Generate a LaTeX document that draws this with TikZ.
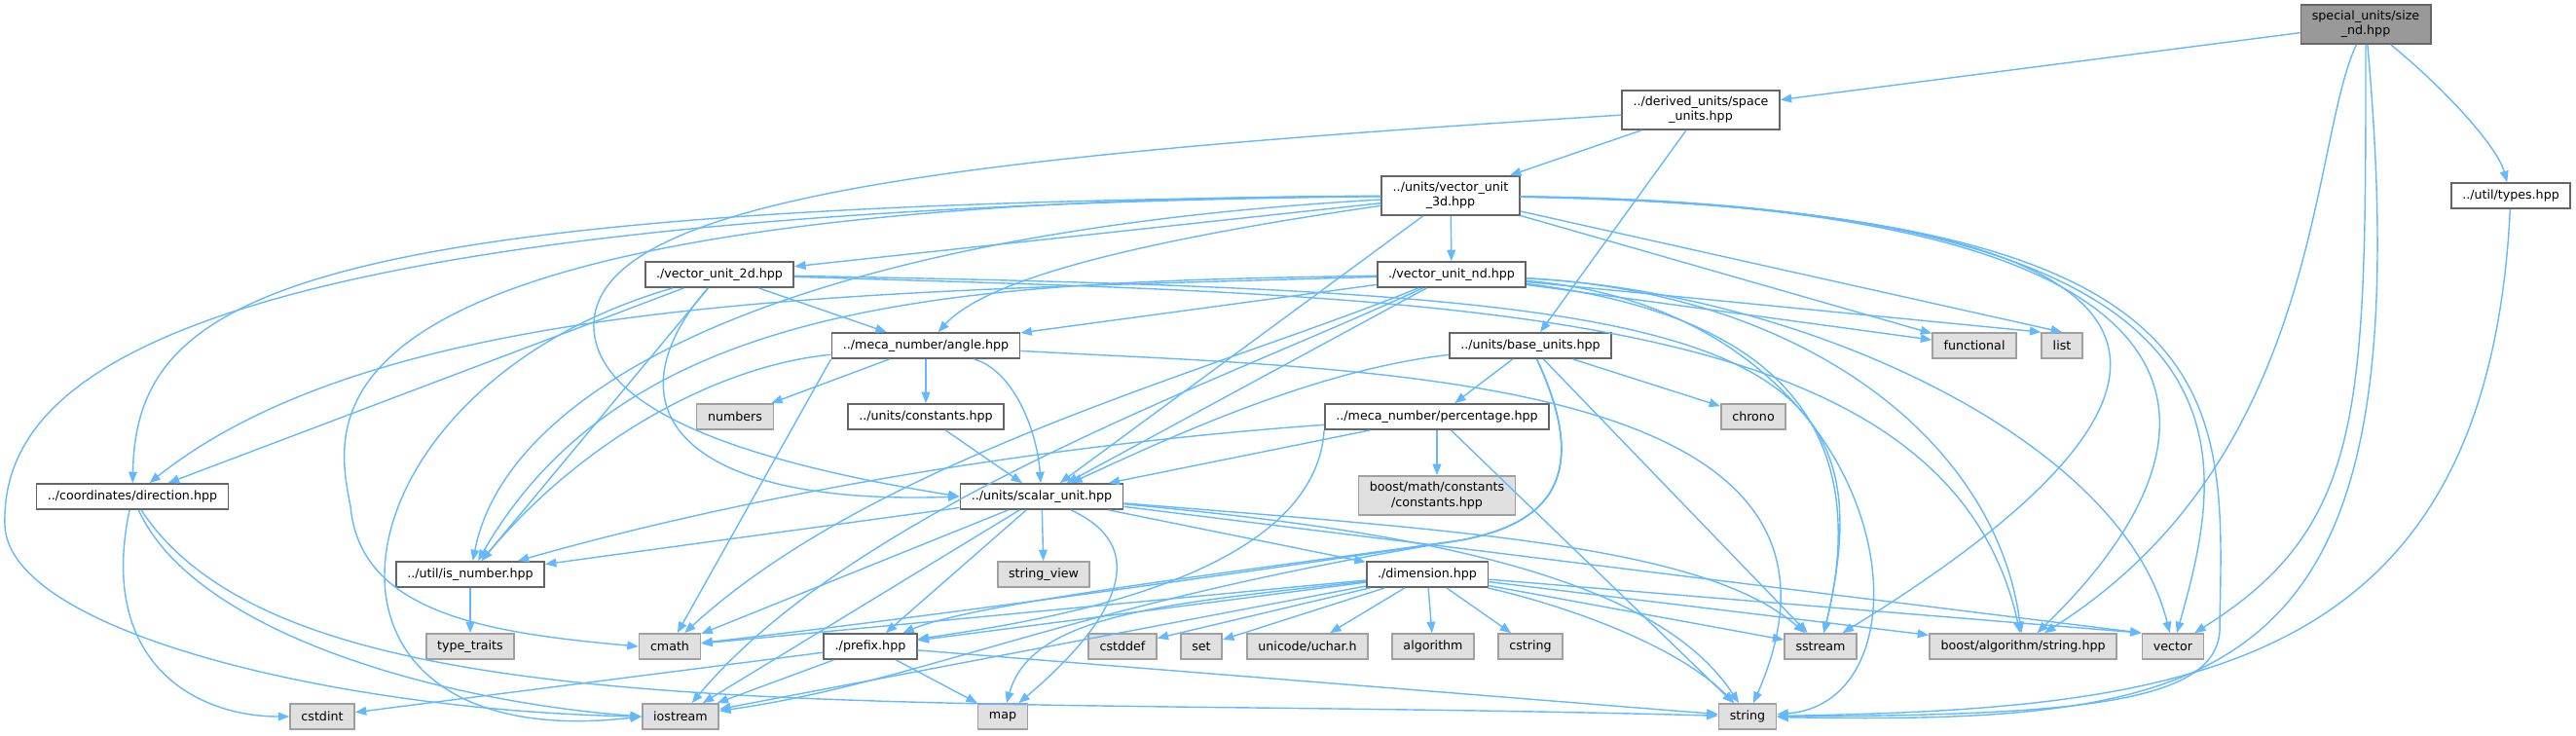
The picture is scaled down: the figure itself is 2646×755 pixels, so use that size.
\documentclass[tikz,border=0pt]{standalone}
\usepackage{fontspec}
\setmainfont{DejaVu Sans}
\usetikzlibrary{arrows.meta}

\definecolor{azul}{RGB}{99,184,255}
\definecolor{bordeoscuro}{RGB}{102,102,102}
\definecolor{bordeclaro}{RGB}{160,160,160}
\definecolor{fondogris}{RGB}{224,224,224}
\definecolor{grisraiz}{RGB}{153,153,153}

\tikzset{
  archivo/.style={draw=bordeoscuro, fill=white, line width=1pt, inner xsep=6.5pt,
    minimum height=0.52cm, font=\fontsize{7.2}{8.6}\selectfont},
  externo/.style={archivo, draw=bordeclaro, fill=fondogris},
  doble/.style={archivo, align=center, minimum height=0.8cm},
  raiz/.style={doble, fill=grisraiz},
  flecha/.style={draw=azul, line width=0.8pt, -{Triangle[length=6.5pt,width=5pt]}}
}

\begin{document}
\begin{tikzpicture}[x=0.02cm, y=0.02cm] % 1 unidad = 1 pixel
    \useasboundingbox (0,0) rectangle (2646,-755);
    % Archivos del proyecto
    \node[raiz] (raiz) at (2430,-25) {special\_units/size\\\_nd.hpp};
    \node[doble] (espacio) at (1747,-113) {../derived\_units/space\\\_units.hpp};
    \node[archivo] (tipos) at (2579,-201) {../util/types.hpp};
    \node[doble] (vec3d) at (1490,-201) {../units/vector\_unit\\\_3d.hpp};
    \node[archivo] (vec2d) at (739,-282) {./vector\_unit\_2d.hpp};
    \node[archivo] (vecnd) at (1491,-282) {./vector\_unit\_nd.hpp};
    \node[archivo] (angulo) at (951,-355) {../meca\_number/angle.hpp};
    \node[archivo] (base) at (1572,-355) {../units/base\_units.hpp};
    \node[archivo] (constantes) at (951,-428) {../units/constants.hpp};
    \node[archivo] (porcentaje) at (1476,-428) {../meca\_number/percentage.hpp};
    \node[archivo] (direccion) at (136,-510) {../coordinates/direction.hpp};
    \node[archivo] (escalar) at (1070,-510) {../units/scalar\_unit.hpp};
    \node[archivo] (esnumero) at (483,-590) {../util/is\_number.hpp};
    \node[archivo] (dimension) at (1466,-590) {./dimension.hpp};
    \node[archivo] (prefijo) at (894,-664) {./prefix.hpp};
    % Cabeceras externas
    \node[externo] (functional) at (2028,-355) {functional};
    \node[externo] (list) at (2118,-355) {list};
    \node[externo] (numbers) at (755,-428) {numbers};
    \node[externo] (chrono) at (1801,-428) {chrono};
    \node[externo, align=center, minimum height=0.8cm] (boostmath) at (1476,-509) {boost/math/constants\\/constants.hpp};
    \node[externo] (stringview) at (1072,-590) {string\_view};
    \node[externo] (typetraits) at (483,-664) {type\_traits};
    \node[externo] (cmath) at (688,-664) {cmath};
    \node[externo] (cstddef) at (1153,-664) {cstddef};
    \node[externo] (set) at (1234,-664) {set};
    \node[externo] (uchar) at (1343,-664) {unicode/uchar.h};
    \node[externo] (algorithm) at (1472,-664) {algorithm};
    \node[externo] (cstring) at (1572,-664) {cstring};
    \node[externo] (sstream) at (1870,-664) {sstream};
    \node[externo] (boostalg) at (2078,-664) {boost/algorithm/string.hpp};
    \node[externo] (vector) at (2232,-664) {vector};
    \node[externo] (cstdint) at (331,-736) {cstdint};
    \node[externo] (iostream) at (699,-736) {iostream};
    \node[externo] (map) at (1030,-736) {map};
    \node[externo] (string) at (1795,-736) {string};

    % Desde la raiz
    \draw[flecha] (raiz) -- (espacio);
    \draw[flecha] (raiz) .. controls (2510,-90) and (2565,-150) .. (tipos);
    \draw[flecha] (raiz) .. controls (2372,-150) and (2385,-470) .. (boostalg);
    \draw[flecha] (raiz) .. controls (2430,-420) and (2430,-540) .. (vector);
    \draw[flecha] (raiz) .. controls (2490,-700) and (2300,-745) .. (string);
    \draw[flecha] (tipos) .. controls (2555,-690) and (2250,-728) .. (string);

    % space_units
    \draw[flecha] (espacio) -- (vec3d);
    \draw[flecha] (espacio) -- (base);
    \draw[flecha] (espacio) .. controls (1000,-160) and (620,-200) .. (610,-330)
        .. controls (605,-430) and (800,-480) .. (escalar.west);

    % vector_unit_3d
    \draw[flecha] (vec3d) -- (vecnd);
    \draw[flecha] (vec3d) -- (vec2d);
    \draw[flecha] (vec3d) .. controls (1150,-250) and (1010,-290) .. (angulo);
    \draw[flecha] (vec3d) .. controls (300,-210) and (140,-300) .. (direccion);
    \draw[flecha] (vec3d) .. controls (200,-215) and (0,-380) .. (5,-540)
        .. controls (10,-650) and (350,-730) .. (iostream.west);
    \draw[flecha] (vec3d) .. controls (800,-240) and (520,-400) .. (esnumero);
    \draw[flecha] (vec3d) .. controls (300,-205) and (340,-420) .. (360,-520)
        .. controls (370,-630) and (500,-650) .. (cmath.west);
    \draw[flecha] (vec3d) -- (escalar);
    \draw[flecha] (vec3d) -- (functional);
    \draw[flecha] (vec3d) -- (list.north);
    \draw[flecha] (vec3d) .. controls (2300,-215) and (2300,-400) .. (sstream);
    \draw[flecha] (vec3d) .. controls (2320,-212) and (2300,-450) .. (boostalg);
    \draw[flecha] (vec3d) .. controls (2340,-210) and (2290,-460) .. (vector);
    \draw[flecha] (vec3d) .. controls (2300,-215) and (2285,-400) .. (2280,-640)
        .. controls (2285,-720) and (2150,-735) .. (string);

    % vector_unit_nd
    \draw[flecha] (vecnd) -- (angulo);
    \draw[flecha] (vecnd) .. controls (900,-300) and (400,-300) .. (direccion);
    \draw[flecha] (vecnd) .. controls (1000,-290) and (650,-300) .. (esnumero);
    \draw[flecha] (vecnd) .. controls (1250,-380) and (900,-470) .. (cmath);
    \draw[flecha] (vecnd) .. controls (1260,-390) and (880,-520) .. (iostream);
    \draw[flecha] (vecnd) -- (escalar);
    \draw[flecha] (vecnd) -- (functional);
    \draw[flecha] (vecnd) -- (list.north west);
    \draw[flecha] (vecnd) .. controls (1800,-320) and (1930,-420) .. (sstream);
    \draw[flecha] (vecnd) .. controls (1850,-300) and (2050,-450) .. (boostalg);
    \draw[flecha] (vecnd) .. controls (1850,-300) and (2180,-450) .. (vector);
    \draw[flecha] (vecnd) .. controls (1950,-320) and (2000,-720) .. (string);

    % vector_unit_2d
    \draw[flecha] (vec2d) -- (angulo);
    \draw[flecha] (vec2d) -- (direccion);
    \draw[flecha] (vec2d) -- (esnumero);
    \draw[flecha] (vec2d) .. controls (620,-420) and (700,-520) .. (escalar.west);
    \draw[flecha] (vec2d) .. controls (330,-400) and (280,-780) .. (iostream.west);
    \draw[flecha] (vec2d) .. controls (1500,-305) and (2000,-310) .. (boostalg);
    \draw[flecha] (vec2d) .. controls (1750,-300) and (1950,-330) .. (sstream);

    % angle
    \draw[flecha] (angulo) -- (numbers);
    \draw[flecha] (angulo) -- (constantes);
    \draw[flecha] (angulo) .. controls (1040,-380) and (1065,-440) .. (escalar);
    \draw[flecha] (angulo) .. controls (740,-375) and (600,-450) .. (esnumero);
    \draw[flecha] (angulo.south west) -- (cmath);
    \draw[flecha] (angulo) .. controls (1400,-380) and (1950,-380) .. (string);

    % base_units
    \draw[flecha] (base) -- (chrono);
    \draw[flecha] (base) -- (porcentaje);
    \draw[flecha] (base) .. controls (1350,-380) and (1200,-450) .. (escalar);
    \draw[flecha] (base) -- (sstream);
    \draw[flecha] (base) .. controls (1640,-500) and (1580,-540) .. (1500,-555)
        .. controls (1250,-590) and (1000,-620) .. (prefijo);
    \draw[flecha] (base) .. controls (1640,-500) and (1580,-540) .. (1500,-555)
        .. controls (1200,-600) and (900,-640) .. (cmath);
    \draw[flecha] (base) .. controls (1640,-500) and (1580,-540) .. (1500,-555)
        .. controls (1100,-620) and (950,-700) .. (iostream);

    % percentage y constants
    \draw[flecha] (porcentaje) -- (boostmath);
    \draw[flecha] (porcentaje) -- (escalar);
    \draw[flecha] (porcentaje) .. controls (1100,-455) and (800,-500) .. (esnumero);
    \draw[flecha] (porcentaje.south west) .. controls (1350,-600) and (1050,-640) .. (prefijo);
    \draw[flecha] (porcentaje) -- (string);
    \draw[flecha] (constantes) -- (escalar);

    % scalar_unit
    \draw[flecha] (escalar) -- (stringview);
    \draw[flecha] (escalar) -- (dimension);
    \draw[flecha] (escalar) -- (esnumero);
    \draw[flecha] (escalar) -- (prefijo);
    \draw[flecha] (escalar) -- (cmath);
    \draw[flecha] (escalar) -- (iostream);
    \draw[flecha] (escalar) .. controls (1200,-570) and (1120,-660) .. (map);
    \draw[flecha] (escalar) .. controls (1500,-545) and (1750,-560) .. (sstream);
    \draw[flecha] (escalar) .. controls (1450,-545) and (1700,-590) .. (string);
    \draw[flecha] (escalar) -- (vector.north west);

    % dimension
    \draw[flecha] (dimension) -- (prefijo);
    \draw[flecha] (dimension) -- (cmath);
    \draw[flecha] (dimension) -- (cstddef);
    \draw[flecha] (dimension) -- (set);
    \draw[flecha] (dimension) -- (uchar);
    \draw[flecha] (dimension) -- (algorithm);
    \draw[flecha] (dimension) -- (cstring);
    \draw[flecha] (dimension) -- (sstream);
    \draw[flecha] (dimension) -- (boostalg);
    \draw[flecha] (dimension) -- (vector.north west);
    \draw[flecha] (dimension) .. controls (1600,-620) and (1720,-660) .. (string);
    \draw[flecha] (dimension) -- (iostream);
    \draw[flecha] (dimension) .. controls (1200,-620) and (1060,-630) .. (map);

    % prefix, direction, is_number
    \draw[flecha] (prefijo) -- (cstdint);
    \draw[flecha] (prefijo) -- (iostream);
    \draw[flecha] (prefijo) -- (map);
    \draw[flecha] (prefijo) -- (string);
    \draw[flecha] (direccion) .. controls (100,-680) and (200,-736) .. (cstdint);
    \draw[flecha] (direccion) .. controls (200,-650) and (450,-720) .. (iostream.west);
    \draw[flecha] (direccion) .. controls (300,-760) and (900,-712) .. (string);
    \draw[flecha] (esnumero) -- (typetraits);
\end{tikzpicture}
\end{document}
